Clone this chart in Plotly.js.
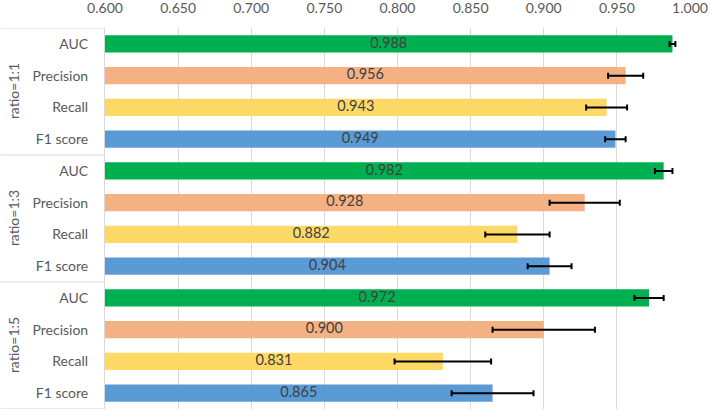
<!DOCTYPE html>
<html>
<head>
<meta charset="utf-8">
<script src="https://cdn.plot.ly/plotly-3.0.1.min.js"></script>
<style>
  html, body { margin: 0; padding: 0; background: #fff; }
  #chart { width: 711px; height: 410px; }
</style>
</head>
<body>
<div id="chart"></div>
<script>
// data
const groups = ["ratio=1:1", "ratio=1:3", "ratio=1:5"];
const metrics = ["AUC", "Precision", "Recall", "F1 score"];
const metricColors = ["#00B050", "#F4B183", "#FFD966", "#5B9BD5"];

const values = [
  [0.988, 0.956, 0.943, 0.949], // 1:1
  [0.982, 0.928, 0.882, 0.904], // 1:3
  [0.972, 0.900, 0.831, 0.865], // 1:5
];
const errors = [
  [0.002, 0.012, 0.014, 0.007],
  [0.006, 0.024, 0.022, 0.015],
  [0.010, 0.035, 0.033, 0.028],
];

const xTicks = [0.6, 0.65, 0.7, 0.75, 0.8, 0.85, 0.9, 0.95, 1.0];
const xMin = 0.6, xMax = 1.0;

// flatten into one category per bar
let keys = [], labels = [], xs = [], errs = [], colors = [], texts = [], textXs = [];
groups.forEach((g, gi) => {
  metrics.forEach((m, mi) => {
    keys.push(g + " | " + m);
    labels.push(m);
    xs.push(values[gi][mi]);
    errs.push(errors[gi][mi]);
    colors.push(metricColors[mi]);
    texts.push(values[gi][mi].toFixed(3));
    textXs.push((xMin + values[gi][mi]) / 2); // middle of the visible part of the bar
  });
});

const font = "Lato, 'Open Sans', sans-serif";
const gridColor = "#D9D9D9";

let data = [
  {
    type: "bar",
    orientation: "h",
    y: keys,
    x: xs,
    marker: { color: colors, line: { width: 0 } },
    error_x: {
      type: "data",
      array: errs,
      visible: true,
      color: "#000000",
      thickness: 2,
      width: 3,
    },
    hoverinfo: "x+y",
    showlegend: false,
  },
  {
    type: "scatter",
    mode: "text",
    y: keys,
    x: textXs,
    text: texts,
    textposition: "middle center",
    textfont: { family: font, size: 14.5, color: "#404040" },
    hoverinfo: "skip",
    showlegend: false,
    cliponaxis: false,
  },
];

// group labels and divider lines in the category band
const leftBand = -104.5 / 585.8; // paper units left of the plot area
let annotations = [];
let shapes = [];
groups.forEach((g, gi) => {
  annotations.push({
    text: g,
    xref: "paper",
    yref: "y",
    x: -91.5 / 585.8,
    y: gi * metrics.length + (metrics.length - 1) / 2,
    xanchor: "center",
    yanchor: "middle",
    textangle: -90,
    showarrow: false,
    font: { family: font, size: 14, color: "#595959" },
  });
});
for (let gi = 0; gi <= groups.length; gi++) {
  shapes.push({
    type: "line",
    xref: "paper",
    yref: "y",
    x0: leftBand,
    x1: 0,
    y0: gi * metrics.length - 0.5,
    y1: gi * metrics.length - 0.5,
    line: { color: gridColor, width: 1 },
  });
}

let layout = {
  width: 711,
  height: 410,
  margin: { l: 104.5, r: 20.7, t: 28, b: 1, pad: 0 },
  paper_bgcolor: "#ffffff",
  plot_bgcolor: "#ffffff",
  bargap: 0.45,
  font: { family: font, size: 14, color: "#595959" },
  xaxis: {
    side: "top",
    range: [xMin, xMax],
    tickvals: xTicks,
    tickformat: ".3f",
    showgrid: true,
    gridcolor: gridColor,
    gridwidth: 1,
    zeroline: false,
    showline: false,
    ticks: "outside",
    ticklen: 8,
    tickcolor: "rgba(0,0,0,0)",
    tickfont: { family: font, size: 14, color: "#595959" },
    fixedrange: true,
  },
  yaxis: {
    type: "category",
    categoryorder: "array",
    categoryarray: keys,
    tickvals: keys,
    ticktext: labels,
    range: [keys.length - 0.5, -0.5],
    showgrid: false,
    zeroline: false,
    showline: true,
    linecolor: gridColor,
    linewidth: 1,
    ticks: "outside",
    ticklen: 13,
    tickcolor: "rgba(0,0,0,0)",
    tickfont: { family: font, size: 14, color: "#595959" },
    fixedrange: true,
  },
  annotations: annotations,
  shapes: shapes,
};

Plotly.newPlot("chart", data, layout, { displayModeBar: false, staticPlot: true });
</script>
</body>
</html>
